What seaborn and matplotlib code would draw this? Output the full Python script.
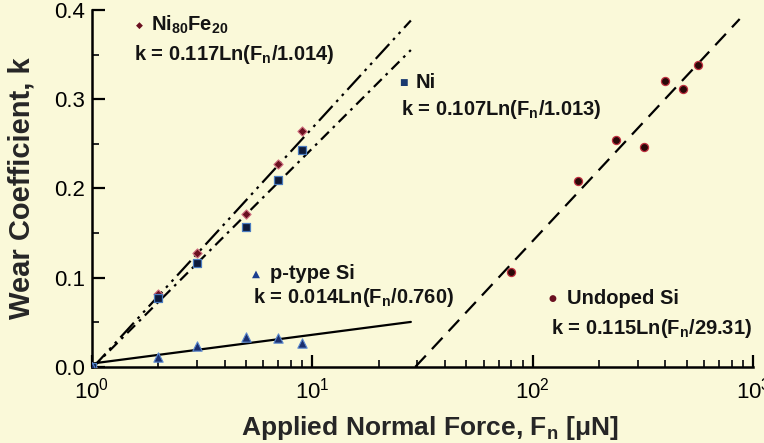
import numpy as np
import pandas as pd
import matplotlib
matplotlib.use("Agg")
import matplotlib.pyplot as plt
import seaborn as sns
from matplotlib.ticker import LogLocator, LogFormatterMathtext, MultipleLocator, FormatStrFormatter, NullFormatter

# ---------------- data ----------------
force_metal = [1, 2, 3, 5, 7, 9]
k_nife = [0.0, 0.082, 0.128, 0.171, 0.228, 0.264]
k_ni = [0.0, 0.077, 0.117, 0.157, 0.210, 0.243]
force_ptype = [1, 2, 3, 5, 7, 9]
k_ptype = [0.0, 0.011, 0.023, 0.034, 0.032, 0.027]
force_undoped = [80, 160, 240, 320, 400, 480, 560]
k_undoped = [0.106, 0.208, 0.254, 0.246, 0.320, 0.311, 0.338]

# fit equations k = a * ln(F / F0), drawn over [F_start, F_end]
fit_names = ["NiFe", "Ni", "ptype", "undoped"]
fit_a = [0.117, 0.107, 0.014, 0.115]
fit_f0 = [1.014, 1.013, 0.760, 29.31]
fit_start = [1.0, 1.0, 1.0, 29.31]
fit_end = [28.0, 28.0, 28.0, 870.0]

x_ticks = [1, 10, 100, 1000]
y_ticks = [0.0, 0.1, 0.2, 0.3, 0.4]

# ---------------- style ----------------
bg = "#FAF9D9"
sns.set_theme(style="ticks")
plt.rcParams["font.family"] = ["Liberation Sans", "DejaVu Sans"]
plt.rcParams["mathtext.fontset"] = "custom"
plt.rcParams["mathtext.rm"] = "Liberation Sans"
plt.rcParams["mathtext.bf"] = "Liberation Sans:bold"
plt.rcParams["mathtext.it"] = "Liberation Sans:italic"

fig = plt.figure(figsize=(7.64, 4.43), dpi=100, facecolor=bg)
ax = fig.add_axes([0.1204, 0.1716, 0.8652, 0.8058])
ax.set_facecolor(bg)

# fit lines
styles = {
    "NiFe": (9, 2.5, 1.2, 2.5, 1.2, 2.5),
    "Ni": (5, 2.5, 1.2, 2.5),
    "ptype": None,
    "undoped": (7, 4),
}
for name, a, f0, s, e in zip(fit_names, fit_a, fit_f0, fit_start, fit_end):
    f = np.geomspace(s, e, 60)
    df = pd.DataFrame({"F": f, "k": a * np.log(f / f0)})
    sns.lineplot(data=df, x="F", y="k", ax=ax, color="black", lw=1.6)
    if styles[name]:
        ax.lines[-1].set_dashes(styles[name])

# data points
sns.scatterplot(x=force_metal, y=k_nife, ax=ax, marker="D", s=22,
                color="#6a1020", edgecolor="#d07080", linewidth=0.8, zorder=5)
sns.scatterplot(x=force_metal, y=k_ni, ax=ax, marker="s", s=30,
                color="#0d1a3a", edgecolor="#4a7cc0", linewidth=0.9, zorder=5)
sns.scatterplot(x=force_ptype, y=k_ptype, ax=ax, marker="^", s=45,
                color="#1b2f6e", edgecolor="#5a88d0", linewidth=0.8, zorder=5)
sns.scatterplot(x=force_undoped, y=k_undoped, ax=ax, marker="o", s=34,
                color="#2a0808", edgecolor="#c03040", linewidth=0.9, zorder=5)

ax.set_xscale("log")
ax.set_xlim(1, 1000)
ax.set_ylim(0, 0.4)

ax.xaxis.set_major_locator(LogLocator(base=10))
ax.xaxis.set_major_formatter(LogFormatterMathtext())
ax.xaxis.set_minor_locator(LogLocator(base=10, subs=np.arange(2, 10)))
ax.xaxis.set_minor_formatter(NullFormatter())
ax.set_xticks(x_ticks)
ax.set_yticks(y_ticks)
ax.yaxis.set_major_formatter(FormatStrFormatter("%.1f"))
ax.yaxis.set_minor_locator(MultipleLocator(0.05))

ax.tick_params(axis="both", which="major", direction="in", length=9, width=1.6,
               labelsize=16, colors="black", pad=5)
ax.tick_params(axis="both", which="minor", direction="in", length=5, width=1.4)
ax.tick_params(axis="x", which="major", pad=8)

for side in ["top", "right"]:
    ax.spines[side].set_visible(False)
for side in ["left", "bottom"]:
    ax.spines[side].set_linewidth(1.8)
    ax.spines[side].set_color("black")

ax.set_xlabel(r"Applied Normal Force, F$_\mathbf{n}$ [μN]", fontsize=19,
              fontweight="bold")
ax.set_ylabel("Wear Coefficient, k", fontsize=21, fontweight="bold")
ax.xaxis.set_label_coords(0.511, -0.172)
ax.xaxis.label.set_va("center")
ax.yaxis.set_label_coords(-0.106, 0.5)
ax.yaxis.label.set_va("center")

# annotation keys and equations
tkw = dict(transform=ax.transAxes, fontsize=14.5, fontweight="bold",
           color="#141414", va="center", ha="left")
mkw = dict(transform=ax.transAxes, va="center", ha="center", family="DejaVu Sans")

ax.text(0.071, 0.958, "◆", fontsize=6.5, color="#6a1020", **mkw)
ax.text(0.090, 0.958, r"Ni$_\mathbf{80}$Fe$_\mathbf{20}$", **tkw)
ax.text(0.063, 0.874, r"k = 0.117Ln(F$_\mathbf{n}$/1.014)", **tkw)

ax.text(0.4705, 0.796, "■", fontsize=6.5, color="#1a3a70", **mkw)
ax.text(0.490, 0.796, "Ni", **tkw)
ax.text(0.4675, 0.720, r"k = 0.107Ln(F$_\mathbf{n}$/1.013)", **tkw)

ax.text(0.248, 0.261, "▲", fontsize=7.5, color="#1b3f8f", **mkw)
ax.text(0.269, 0.261, "p-type Si", **tkw)
ax.text(0.2436, 0.196, r"k = 0.014Ln(F$_\mathbf{n}$/0.760)", **tkw)

ax.text(0.697, 0.193, "●", fontsize=6.5, color="#6a1020", **mkw)
ax.text(0.719, 0.193, "Undoped Si", **tkw)
ax.text(0.6944, 0.109, r"k = 0.115Ln(F$_\mathbf{n}$/29.31)", **tkw)

fig.savefig("out.png", dpi=100, facecolor=bg)
